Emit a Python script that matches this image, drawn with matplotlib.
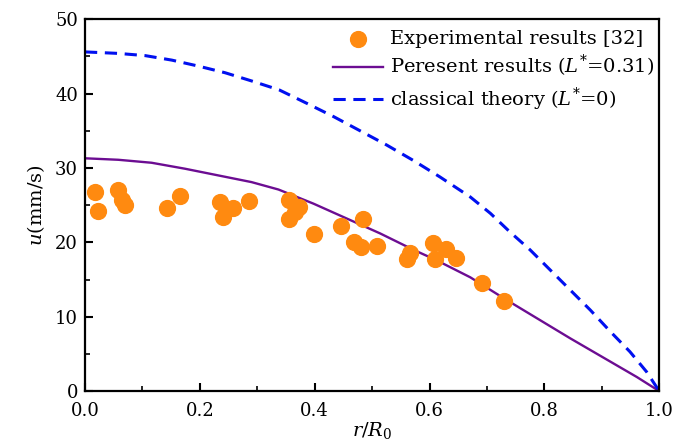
import matplotlib
matplotlib.use("Agg")
import matplotlib.pyplot as plt
from matplotlib.ticker import MultipleLocator, FormatStrFormatter

plt.rcParams['font.family'] = ['DejaVu Serif']
plt.rcParams['mathtext.fontset'] = 'dejavuserif'

# Experimental results [32]
exp_x = [0.017, 0.023, 0.057, 0.064, 0.070, 0.143, 0.166, 0.235, 0.240, 0.258,
         0.286, 0.355, 0.356, 0.365, 0.372, 0.399, 0.446, 0.469, 0.481, 0.485,
         0.509, 0.561, 0.566, 0.606, 0.610, 0.629, 0.646, 0.692, 0.730]
exp_y = [26.8, 24.2, 27.1, 25.7, 25.0, 24.6, 26.2, 25.4, 23.4, 24.6,
         25.5, 25.7, 23.2, 24.1, 24.7, 21.1, 22.2, 20.0, 19.4, 23.2,
         19.5, 17.8, 18.6, 19.9, 17.8, 19.1, 17.9, 14.5, 12.1]

# Present results (L*=0.31)
pres_x = [0.0, 0.058, 0.116, 0.174, 0.232, 0.29, 0.337, 0.398, 0.456, 0.514,
          0.572, 0.612, 0.671, 0.729, 0.787, 0.845, 0.903, 0.961, 1.0]
pres_y = [31.3, 31.1, 30.7, 29.9, 29.0, 28.1, 27.1, 25.2, 23.2, 21.2,
          19.0, 17.6, 15.3, 12.5, 9.8, 7.1, 4.5, 1.9, 0.0]

# classical theory (L*=0)
clas_x = [0.0, 0.058, 0.105, 0.151, 0.197, 0.244, 0.29, 0.338, 0.386, 0.433,
          0.479, 0.525, 0.572, 0.618, 0.671, 0.706, 0.740, 0.775, 0.810, 0.845,
          0.880, 0.915, 0.949, 0.978, 1.0]
clas_y = [45.6, 45.4, 45.1, 44.5, 43.7, 42.8, 41.7, 40.5, 38.7, 36.9,
          35.0, 33.1, 31.0, 28.8, 26.1, 23.9, 21.4, 19.0, 16.3, 13.6,
          10.9, 8.0, 5.3, 2.6, 0.0]

fig = plt.figure(figsize=(6.91, 4.46), dpi=100)
ax = fig.add_axes([0.123, 0.123, 0.831, 0.834])

ax.scatter(exp_x, exp_y, s=130, color='#FF8A10', zorder=3,
           label='Experimental results [32]')
ax.plot(pres_x, pres_y, color='#6C0D92', lw=1.7,
        label=r'Peresent results ($L^{*}$=0.31)')
ax.plot(clas_x, clas_y, color='#0010F0', lw=2.2, linestyle=(0, (4, 2.5)),
        label=r'classical theory ($L^{*}$=0)')

ax.set_xlim(0, 1.0)
ax.set_ylim(0, 50)
ax.xaxis.set_major_locator(MultipleLocator(0.2))
ax.xaxis.set_minor_locator(MultipleLocator(0.1))
ax.yaxis.set_major_locator(MultipleLocator(10))
ax.yaxis.set_minor_locator(MultipleLocator(5))
ax.xaxis.set_major_formatter(FormatStrFormatter('%.1f'))
ax.tick_params(which='major', direction='in', length=6, width=1.5, labelsize=13)
ax.tick_params(axis='x', which='major', pad=8)
ax.tick_params(axis='y', which='major', pad=5)
ax.tick_params(which='minor', direction='in', length=3.5, width=1.2)
for s in ax.spines.values():
    s.set_linewidth(1.6)

ax.set_xlabel(r'$r/R_0$', fontsize=14, labelpad=0)
ax.set_ylabel(r'$u$(mm/s)', fontsize=14, labelpad=6)

ax.legend(loc='upper right', bbox_to_anchor=(1.0, 0.985), frameon=False,
          fontsize=14, handlelength=2.6, handletextpad=0.35, labelspacing=0.3,
          borderaxespad=0.1, borderpad=0.15)

fig.savefig('out.png', dpi=100)
